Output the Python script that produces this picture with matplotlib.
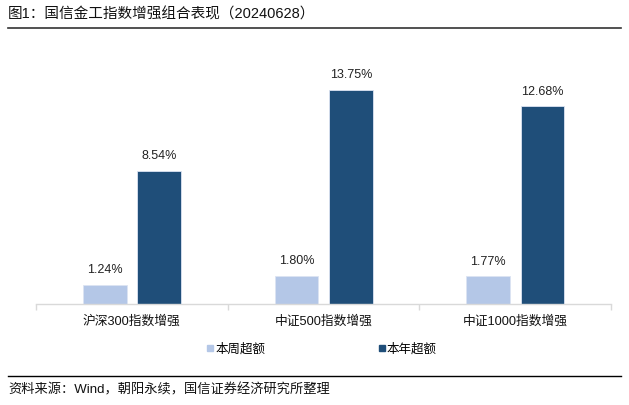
import numpy as np
import matplotlib
matplotlib.use('Agg')
import matplotlib.pyplot as plt
from matplotlib.lines import Line2D

plt.rcParams['font.family'] = ['Liberation Sans', 'Noto Sans CJK SC', 'DejaVu Sans']

categories = ['沪深300指数增强', '中证500指数增强', '中证1000指数增强']
week_excess = [1.24, 1.80, 1.77]
year_excess = [8.54, 13.75, 12.68]
series_names = ['本周超额', '本年超额']
light = '#B4C7E7'
dark = '#1F4E79'

fig = plt.figure(figsize=(6.29, 4.05), dpi=100)
# axes: baseline at y=304, x from 36 to 611
ax = fig.add_axes([36 / 629, 1 - 304 / 405, 575 / 629, 265 / 405])

x = np.arange(len(categories))
w = 0.227
b1 = ax.bar(x - 0.141, week_excess, w, color=light, edgecolor='#DCE4F2', linewidth=0.6)
b2 = ax.bar(x + 0.143, year_excess, w, color=dark, edgecolor='#DCE4F2', linewidth=0.6)

for bars, vals in [(b1, week_excess), (b2, year_excess)]:
    for r, v in zip(bars, vals):
        ax.text(r.get_x() + r.get_width() / 2, v + 0.55, '%.2f%%' % v,
                ha='center', va='bottom', fontsize=9, color='#222222')

ax.set_xlim(-0.5, len(categories) - 0.5)
ax.set_ylim(0, 17)
ax.set_yticks([])
for s in ['top', 'right', 'left']:
    ax.spines[s].set_visible(False)
ax.spines['bottom'].set_color('#D9D9D9')
ax.spines['bottom'].set_linewidth(1.0)
ax.set_xticks(np.arange(-0.5, len(categories), 1))
ax.set_xticklabels([])
ax.tick_params(axis='x', length=4, color='#D9D9D9', width=1.0)
for i, c in enumerate(categories):
    ax.text(i, -0.75, c, ha='center', va='top', fontsize=9.2, color='#111111')

handles = [Line2D([], [], marker='s', ls='none', color=light, markersize=4.5),
           Line2D([], [], marker='s', ls='none', color=dark, markersize=4.5)]
fig.legend(handles, series_names, loc='center', bbox_to_anchor=(321.5 / 629, 1 - 349 / 405),
           ncol=2, frameon=False, fontsize=9, handlelength=0.6, handletextpad=0.1,
           columnspacing=9.0, borderpad=0, borderaxespad=0)

fig.text(8 / 629, 1 - 15 / 405, '图1：国信金工指数增强组合表现（20240628）', fontsize=10.5,
         ha='left', va='center', color='#111111')
fig.add_artist(Line2D([8 / 629, 621 / 629], [1 - 28 / 405] * 2, color='#333333', lw=1.2))
fig.add_artist(Line2D([8 / 629, 621 / 629], [1 - 376 / 405] * 2, color='#000000', lw=1.0))
fig.text(8 / 629, 1 - 390 / 405, '资料来源：Wind，朝阳永续，国信证券经济研究所整理', fontsize=9.5,
         ha='left', va='center', color='#111111')

fig.savefig('out.png', dpi=100)
